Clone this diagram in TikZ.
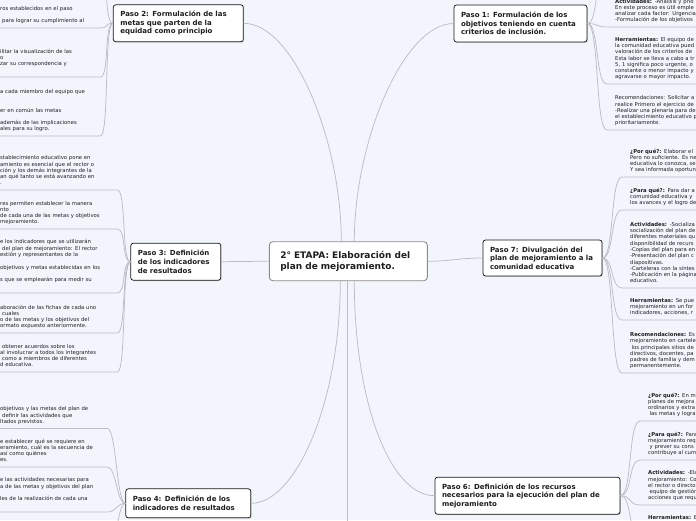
\documentclass[tikz,border=0pt]{standalone}
\usepackage{fontspec}
\setmainfont{DejaVu Sans}
\usetikzlibrary{shadows}
\definecolor{bgc}{HTML}{F3F5FD}
\definecolor{linec}{HTML}{BCBCC4}
\definecolor{txtc}{HTML}{1E1E1E}
\tikzset{
  conn/.style={draw=linec, line width=0.75pt},
  etapabox/.style={draw=black!45, line width=0.9pt, fill=white, rounded corners=3.5pt, minimum width=158pt, minimum height=39pt, text width=136pt, inner xsep=11pt, align=left, font=\fontsize{9}{11.5}\selectfont\bfseries, text=txtc},
  pasobox/.style={draw=black!90, line width=0.75pt, fill=white, rounded corners=2.5pt, drop shadow={opacity=0.3, shadow xshift=0.9pt, shadow yshift=-0.9pt}, inner xsep=7pt, align=left, font=\fontsize{7}{8.6}\selectfont\bfseries, text=txtc},
  leafr/.style={anchor=south west, inner xsep=8pt, inner ysep=3pt, text width=170pt, align=left, font=\fontsize{5.3}{6.3}\selectfont, text=txtc},
  leafl/.style={anchor=south west, inner xsep=0pt, inner ysep=3pt, align=left, font=\fontsize{5.3}{6.3}\selectfont, text=txtc},
}
\newcommand{\leafright}[5]{%
  \node[leafr] (#1) at (#3,#4) {#5\strut};
  \draw[conn] (#2.east) .. controls +(12,0) and +(-12,0) .. (#1.south west) -- ([xshift=20pt]#1.south east);
}
\newcommand{\leafleft}[5]{%
  \node[leafl, text width=#3pt] (#1) at (0,#4) {#5\strut};
  \draw[conn] ([xshift=-5pt]#1.south west) -- (#1.south east) .. controls +(9,0) and +(-9,0) .. (#2.west);
}
\begin{document}
\begin{tikzpicture}[x=1pt,y=-1pt]
\useasboundingbox (0,0) rectangle (696,520);
\fill[bgc] (0,0) rectangle (696,520);
\begin{scope}
\clip (0,0) rectangle (696,520);

% main nodes
\node[etapabox] (etapa) at (348.3,261.2) {2° ETAPA: Elaboración del\\plan de mejoramiento.};
\node[pasobox, text width=116pt, minimum height=37pt] (paso2) at (178.3,23.3) {Paso 2: Formulación de las\\metas que parten de la\\equidad como principio};
\node[pasobox, text width=119pt, minimum height=37pt] (paso1) at (520.5,23.5) {Paso 1: Formulación de los\\objetivos teniendo en cuenta\\criterios de inclusión.};
\node[pasobox, text width=76pt, minimum height=37pt] (paso3) at (175.8,261.7) {Paso 3: Definición\\de los indicadores\\de resultados};
\node[pasobox, text width=105pt, minimum height=36pt] (paso7) at (542.5,258) {Paso 7: Divulgación del\\plan de mejoramiento a la\\comunidad educativa};
\node[pasobox, text width=111pt, minimum height=29pt] (paso4) at (188.3,503.3) {Paso 4: Definición de los\\indicadores de resultados};
\node[pasobox, text width=171pt, minimum height=37pt] (paso6) at (527.5,495.7) {Paso 6: Definición de los recursos\\necesarios para la ejecución del plan de\\mejoramiento};
\coordinate (paso5) at (347.5,600);

% main connectors
\draw[conn] (etapa.west) -- (paso3.east);
\draw[conn] (etapa.east) .. controls +(25,0) and +(-25,0) .. (paso7.west);
\draw[conn] ([xshift=-7pt]etapa.north) .. controls +(0,-100) and +(50,0) .. (paso2.east);
\draw[conn] ([xshift=6pt]etapa.north) .. controls +(0,-100) and +(-50,0) .. (paso1.west);
\draw[conn] ([xshift=-8pt]etapa.south) .. controls +(0,120) and +(45,0) .. (paso4.east);
\draw[conn] ([xshift=6pt]etapa.south) .. controls +(0,120) and +(-45,0) .. (paso6.west);
\draw[conn] ([xshift=-0.8pt]etapa.south) -- (paso5);

% Paso 2 leaves
\coordinate (p2up) at (100,-30);
\draw[conn] (paso2.west) .. controls +(-9,0) and +(9,0) .. (p2up) -- (-5,-30);
\leafleft{p2a}{paso2}{100}{28}{ros establecidos en el paso\\\mbox{}\\\hspace*{2pt}para lograr su cumplimiento al}
\leafleft{p2b}{paso2}{100}{77}{ilitar la visualización de las\\o\\zar su correspondencia y\\\mbox{}}
\leafleft{p2c}{paso2}{100}{136}{a cada miembro del equipo que\\\mbox{}\\\mbox{}\\er en común las metas\\\mbox{}\\además de las implicaciones\\ales para su logro.}

% Paso 3 leaves
\leafleft{p3a}{paso3}{117}{190}{stablecimiento educativo pone en\\amiento es esencial que el rector o\\ción y los demás integrantes de la\\an qué tanto se está avanzando en\\.}
\leafleft{p3b}{paso3}{117}{229}{res permiten establecer la manera\\nto\\de cada una de las metas y objetivos\\mejoramiento.}
\leafleft{p3c}{paso3}{117}{293}{e los indicadores que se utilizarán\\\hspace*{2pt}del plan de mejoramiento: El rector\\estión y representantes de la\\\mbox{}\\objetivos y metas establecidas en los\\\mbox{}\\s que se emplearán para medir su\\\mbox{}}
\leafleft{p3d}{paso3}{117}{333}{aboración de las fichas de cada uno\\\hspace*{2pt}cuales\\o de las metas y los objetivos del\\ormato expuesto anteriormente.}
\leafleft{p3e}{paso3}{117}{372}{\hspace*{2pt}obtener acuerdos sobre los\\al involucrar a todos los integrantes\\\hspace*{2pt}como a miembros de diferentes\\d educativa.}

% Paso 4 leaves
\leafleft{p4a}{paso4}{107}{428.5}{objetivos y las metas del plan de\\\hspace*{2pt}definir las actividades que\\ltados previstos.}
\leafleft{p4b}{paso4}{107}{467}{e establecer qué se requiere en\\eramiento, cuál es la secuencia de\\así como quiénes\\es.}
\leafleft{p4c}{paso4}{107}{512}{e las actividades necesarias para\\a de las metas y objetivos del plan\\\mbox{}\\les de la realización de cada una\\\mbox{}}
\coordinate (p4down) at (107,560);
\draw[conn] (paso4.west) .. controls +(-9,0) and +(9,0) .. (p4down) -- (-5,560);

% Paso 1 leaves
\coordinate (p1up) at (607,-40);
\draw[conn] (paso1.east) .. controls +(12,0) and +(-12,0) .. (p1up) -- (720,-40);
\leafright{p1a}{paso1}{607}{27}{\textbf{Actividades:} -Análisis y prio\\En este proceso es útil emple\\analizar cada factor: Urgencia\\-Formulación de los objetivos}
\leafright{p1b}{paso1}{607}{84}{\textbf{Herramientas:} El equipo de\\la comunidad educativa pued\\valoración de los criterios de\\Esta labor se lleva a cabo a tr\\5, 1 significa poco urgente, o\\constante o menor impacto y\\agravarse o mayor impacto.}
\leafright{p1c}{paso1}{607}{130}{Recomendaciones: Solicitar a\\realice Primero el ejercicio de\\-Realizar una plenaria para de\\el establecimiento educativo p\\prioritariamente.}

% Paso 7 leaves
\leafright{p7a}{paso7}{622}{177}{\textbf{¿Por qué?:} Elaborar el\\Pero no suficiente. Es ne\\educativa lo conozca, se\\Y sea informada oportun}
\leafright{p7b}{paso7}{622}{210}{\textbf{¿Para qué?:} Para dar a\\comunidad educativa y\\los avances y el logro de}
\leafright{p7c}{paso7}{622}{288}{\textbf{Actividades:} -Socializa\\socialización del plan de\\diferentes materiales qu\\disponibilidad de recurs\\-Copias del plan para en\\-Presentación del plan c\\diapositivas.\\-Carteleras con la síntes\\-Publicación en la página\\educativo.}
\leafright{p7d}{paso7}{622}{320}{\textbf{Herramientas:} Se pue\\mejoramiento en un for\\indicadores, acciones, r}
\leafright{p7e}{paso7}{622}{373}{\textbf{Recomendaciones:} Es\\mejoramiento en cartele\\\hspace*{1.5pt}los principales sitios de\\directivos, docentes, pa\\padres de familia y dem\\permanentemente.}

% Paso 6 leaves
\leafright{p6a}{paso6}{640}{421}{\textbf{¿Por qué?:} En m\\planes de mejora\\ordinarios y extra\\\hspace*{1.5pt}las metas y logra}
\leafright{p6b}{paso6}{640}{460}{\textbf{¿Para qué?:} Para\\mejoramiento req\\\hspace*{1.5pt}y prever su cons\\contribuye al cum}
\leafright{p6c}{paso6}{640}{505}{\textbf{Actividades:} -Ela\\mejoramiento: Co\\el rector o director\\\hspace*{1.5pt}equipo de gestión\\acciones que requ}
\leafright{p6d}{paso6}{640}{537}{\textbf{Herramientas:} E\\\mbox{}\\\mbox{}}
\end{scope}
\end{tikzpicture}
\end{document}
